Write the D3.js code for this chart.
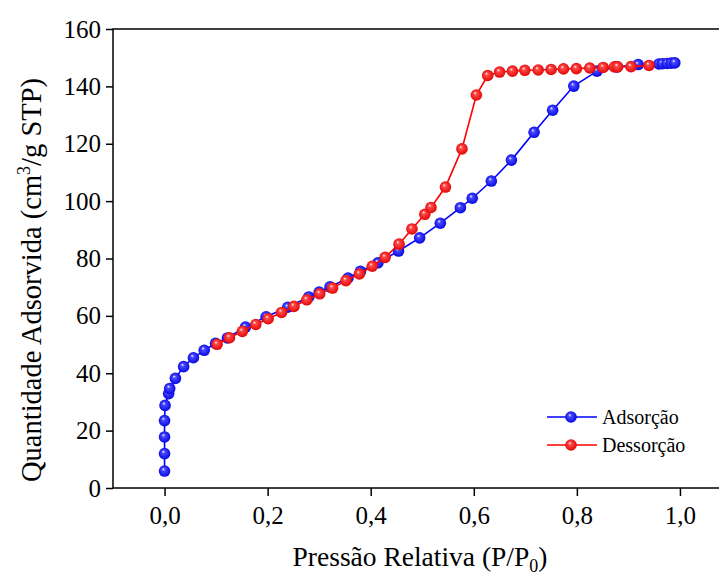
<!DOCTYPE html>
<html>
<head>
<meta charset="utf-8">
<script src="https://cdn.jsdelivr.net/npm/d3@7"></script>
<style>
  body { margin: 0; background: #fff; }
</style>
</head>
<body>
<svg id="chart" width="719" height="578"></svg>
<script>
// Adsorção (blue)
var adsX = [0.000, 0.000, 0.000, 0.000, 0.001, 0.008, 0.010, 0.021, 0.037, 0.056, 0.077, 0.099,
            0.122, 0.157, 0.197, 0.239, 0.280, 0.300, 0.321, 0.356, 0.380, 0.414, 0.454, 0.495,
            0.535, 0.574, 0.597, 0.634, 0.673, 0.717, 0.753, 0.794, 0.839, 0.878, 0.919, 0.959,
            0.966, 0.975, 0.983, 0.990]
var adsY = [5.9, 12.0, 17.8, 23.5, 28.8, 32.9, 34.7, 38.2, 42.3, 45.4, 48.0, 50.4,
            52.3, 56.1, 59.7, 63.0, 66.6, 68.3, 70.1, 73.2, 75.5, 78.5, 82.6, 87.2,
            92.3, 97.7, 101.0, 107.0, 114.3, 124.0, 131.7, 140.1, 145.3, 146.8, 147.6, 147.8,
            147.9, 148.0, 148.1, 148.2]

// Dessorção (red)
var desX = [0.102, 0.126, 0.151, 0.177, 0.201, 0.227, 0.251, 0.276, 0.301, 0.326, 0.352, 0.378,
            0.403, 0.428, 0.455, 0.480, 0.505, 0.517, 0.545, 0.577, 0.605, 0.627, 0.650, 0.675,
            0.699, 0.725, 0.750, 0.774, 0.799, 0.825, 0.851, 0.873, 0.879, 0.905, 0.940]
var desY = [50.1, 52.4, 54.6, 57.0, 59.0, 61.2, 63.3, 65.6, 67.7, 69.7, 72.3, 74.6,
            77.3, 80.4, 85.0, 90.3, 95.4, 97.8, 104.9, 118.2, 137.0, 143.8, 145.0, 145.3,
            145.6, 145.7, 145.9, 146.1, 146.2, 146.4, 146.6, 146.8, 146.8, 146.9, 147.3]

var xTicks = [0, 0.2, 0.4, 0.6, 0.8, 1.0]
var yTicks = [0, 20, 40, 60, 80, 100, 120, 140, 160]
var seriesNames = ["Adsorção", "Dessorção"]

var serif = "'Liberation Serif', 'Times New Roman', Times, 'DejaVu Serif', serif"

var svg = d3.select("#chart")

var x = d3.scaleLinear().domain([-0.1, 1.1]).range([113, 731.5])
var y = d3.scaleLinear().domain([0, 160]).range([488, 29])

var fmt = function(d) { return d3.format(".1f")(d).replace(".", ",") }

// gradients for the shiny markers
var defs = svg.append("defs")
function ball(id, dark, mid) {
    var g = defs.append("radialGradient")
        .attr("id", id)
        .attr("cx", "50%").attr("cy", "50%").attr("r", "55%")
        .attr("fx", "38%").attr("fy", "32%")
    g.append("stop").attr("offset", "0%").attr("stop-color", "#ffffff")
    g.append("stop").attr("offset", "25%").attr("stop-color", mid)
    g.append("stop").attr("offset", "100%").attr("stop-color", dark)
}
ball("ballBlue", "#0000e0", "#4a4aff")
ball("ballRed", "#e00000", "#ff4a4a")

// frame
svg.append("rect")
    .attr("x", x(-0.1)).attr("y", y(160))
    .attr("width", x(1.1) - x(-0.1)).attr("height", y(0) - y(160))
    .attr("fill", "none").attr("stroke", "#000").attr("stroke-width", 1.5)

// x axis
var xAxis = svg.append("g").attr("transform", "translate(0," + y(0) + ")")
xAxis.call(d3.axisBottom(x).tickValues(d3.range(-0.1, 1.11, 0.1)).tickSize(5).tickFormat(""))
xAxis.call(d3.axisBottom(x).tickValues(xTicks).tickSize(8).tickFormat(fmt).tickPadding(10))
xAxis.attr("font-family", serif)
xAxis.selectAll(".domain").remove()
xAxis.selectAll("line").attr("stroke-width", 1.5)
xAxis.selectAll("text").style("font-size", "25px").style("font-family", serif)

// y axis
var yAxis = svg.append("g").attr("transform", "translate(" + x(-0.1) + ",0)")
yAxis.call(d3.axisLeft(y).tickValues(d3.range(10, 160, 20)).tickSize(4).tickFormat(""))
yAxis.call(d3.axisLeft(y).tickValues(yTicks).tickSize(7).tickFormat(d3.format("d")).tickPadding(5))
yAxis.attr("font-family", serif)
yAxis.selectAll(".domain").remove()
yAxis.selectAll("line").attr("stroke-width", 1.5)
yAxis.selectAll("text").style("font-size", "25px").style("font-family", serif)

// axis titles
var xt = svg.append("text")
    .attr("x", 420).attr("y", 566)
    .attr("text-anchor", "middle")
    .style("font-family", serif)
    .style("font-size", "27.5px")
xt.append("tspan").text("Pressão Relativa (P/P")
xt.append("tspan").attr("dy", 6).style("font-size", "18px").text("0")
xt.append("tspan").attr("dy", -6).text(")")

var yt = svg.append("text")
    .attr("transform", "translate(41,280) rotate(-90)")
    .attr("text-anchor", "middle")
    .style("font-family", serif)
    .style("font-size", "28.5px")
yt.append("tspan").text("Quantidade Adsorvida (cm")
yt.append("tspan").attr("dy", -11).style("font-size", "18px").text("3")
yt.append("tspan").attr("dy", 11).text("/g STP)")

// series
var series = [
    { name: seriesNames[0], xs: adsX, ys: adsY, color: "#0000ff", fill: "url(#ballBlue)" },
    { name: seriesNames[1], xs: desX, ys: desY, color: "#ff0000", fill: "url(#ballRed)" }
]

var line = d3.line().x(function(d) { return x(d[0]) }).y(function(d) { return y(d[1]) })

series.forEach(function(s) {
    var pts = s.xs.map(function(v, i) { return [v, s.ys[i]] })
    svg.append("path")
        .datum(pts)
        .attr("d", line)
        .attr("fill", "none")
        .attr("stroke", s.color)
        .attr("stroke-width", 1.6)
    svg.append("g").selectAll("circle")
        .data(pts)
        .enter().append("circle")
        .attr("cx", function(d) { return x(d[0]) })
        .attr("cy", function(d) { return y(d[1]) })
        .attr("r", 5.8)
        .attr("fill", s.fill)
})

// legend
var legend = svg.append("g")
series.forEach(function(s, i) {
    var ly = 417 + i * 28
    legend.append("line")
        .attr("x1", 547).attr("x2", 597).attr("y1", ly).attr("y2", ly)
        .attr("stroke", s.color).attr("stroke-width", 1.6)
    legend.append("circle")
        .attr("cx", 571).attr("cy", ly).attr("r", 5.8).attr("fill", s.fill)
    legend.append("text")
        .attr("x", 602).attr("y", ly + 7)
        .style("font-family", serif)
        .style("font-size", "20px")
        .text(s.name)
})
</script>
</body>
</html>
